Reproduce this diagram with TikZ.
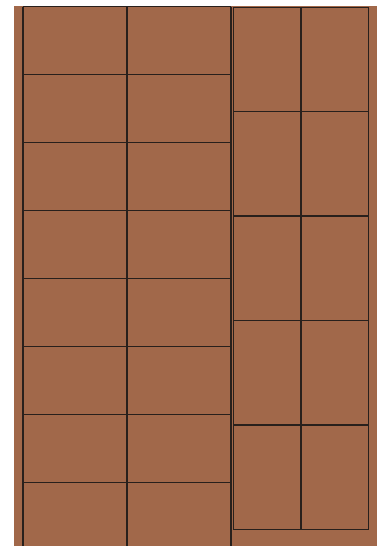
\documentclass[tikz,border=0pt]{standalone}
\usepackage{xcolor}
\definecolor{tilebrown}{RGB}{161,104,74}
\definecolor{jointdark}{RGB}{40,32,28}

\begin{document}
\begin{tikzpicture}[x=1pt, y=-1pt,
  slab/.style={fill=tilebrown},
  joint/.style={draw=jointdark, line width=1.3pt}]

\useasboundingbox (0,0) rectangle (383,546);
\fill[slab] (14,6) rectangle (377,546);

% left block, 2 x 8 tiles
\begin{scope}
\clip (14,6) rectangle (377,546);
\foreach \r in {0,...,7}
  \draw[joint] (23,6.7+68*\r) -- (231,6.7+68*\r);
\foreach \c in {23,127,231}
  \draw[joint] (\c,6.7) -- (\c,546);
\end{scope}

% right block, 2 x 5 tiles
\foreach \r in {0,...,5}
  \draw[joint] (233.3,7.3+104.4*\r) -- (368.7,7.3+104.4*\r);
\foreach \c in {233.3,301,368.7}
  \draw[joint] (\c,7.3) -- (\c,529.3);
\end{tikzpicture}
\end{document}
